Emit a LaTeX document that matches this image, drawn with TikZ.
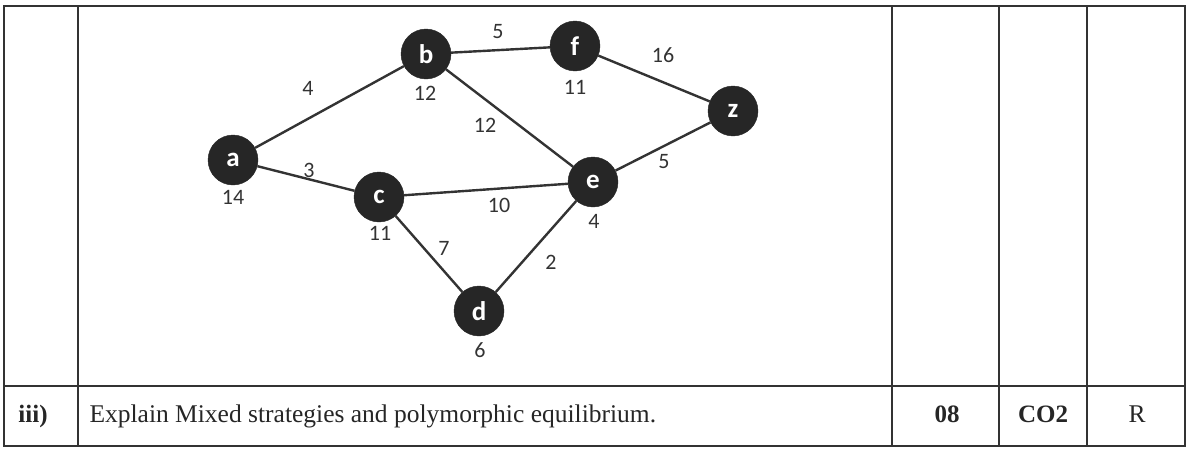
\documentclass[tikz,border=0pt]{standalone}
\usepackage{fontspec}
\setmainfont{Liberation Serif}
\newfontfamily\graphfont{Carlito}
\begin{document}
\begin{tikzpicture}[x=1pt,y=-1pt,
  vtx/.style={circle,fill=black!85,draw=black!85,minimum size=50pt,inner sep=0pt,text=white,font=\graphfont\bfseries\fontsize{27}{27}\selectfont},
  edge/.style={draw=black!80,line width=2.4pt},
  wlab/.style={font=\graphfont\fontsize{22}{22}\selectfont,text=black!80},
  tline/.style={draw=black!80,line width=1.8pt},
  ttext/.style={font=\fontsize{25.5}{25.5}\selectfont,text=black!85},
  tbold/.style={font=\bfseries\fontsize{25}{25}\selectfont,text=black!85}]
\useasboundingbox (0,0) rectangle (1186,450);
% table
\draw[tline] (4,6) rectangle (1185,446);
\draw[tline] (4,386) -- (1185,386);
\draw[tline] (78,6) -- (78,446);
\draw[tline] (892,6) -- (892,446);
\draw[tline] (999,6) -- (999,446);
\draw[tline] (1087,6) -- (1087,446);
\node[tbold] (q) at (33,416) {iii)};
\node[ttext,anchor=west] (qt) at (86,416) {Explain Mixed strategies and polymorphic equilibrium.};
\node[tbold] (m) at (947,414) {08};
\node[tbold] (co) at (1043,414) {CO2};
\node[ttext] (r) at (1137,414) {R};
% graph
\node[vtx] (a) at (233,160) {a};
\node[vtx] (b) at (426,54) {b};
\node[vtx] (c) at (379,197) {c};
\node[vtx] (f) at (575,46) {f};
\node[vtx] (z) at (733,111) {z};
\node[vtx] (e) at (593,182) {e};
\node[vtx] (d) at (479,311) {d};
\draw[edge] (a) -- (b);
\draw[edge] (a) -- (c);
\draw[edge] (b) -- (f);
\draw[edge] (f) -- (z);
\draw[edge] (b) -- (e);
\draw[edge] (c) -- (e);
\draw[edge] (z) -- (e);
\draw[edge] (c) -- (d);
\draw[edge] (d) -- (e);
% labels
\node[wlab] (l1) at (308,88) {4};
\node[wlab] (l2) at (309,170) {3};
\node[wlab] (l3) at (233,197) {14};
\node[wlab] (l4) at (425,93) {12};
\node[wlab] (l5) at (498,32) {5};
\node[wlab] (l6) at (575,87) {11};
\node[wlab] (l7) at (663,55) {16};
\node[wlab] (l8) at (485,125) {12};
\node[wlab] (l9) at (664,162) {5};
\node[wlab] (l10) at (499,205) {10};
\node[wlab] (l11) at (594,221) {4};
\node[wlab] (l12) at (551,262) {2};
\node[wlab] (l13) at (444,248) {7};
\node[wlab] (l14) at (380,233) {11};
\node[wlab] (l15) at (480,350) {6};
\end{tikzpicture}
\end{document}
